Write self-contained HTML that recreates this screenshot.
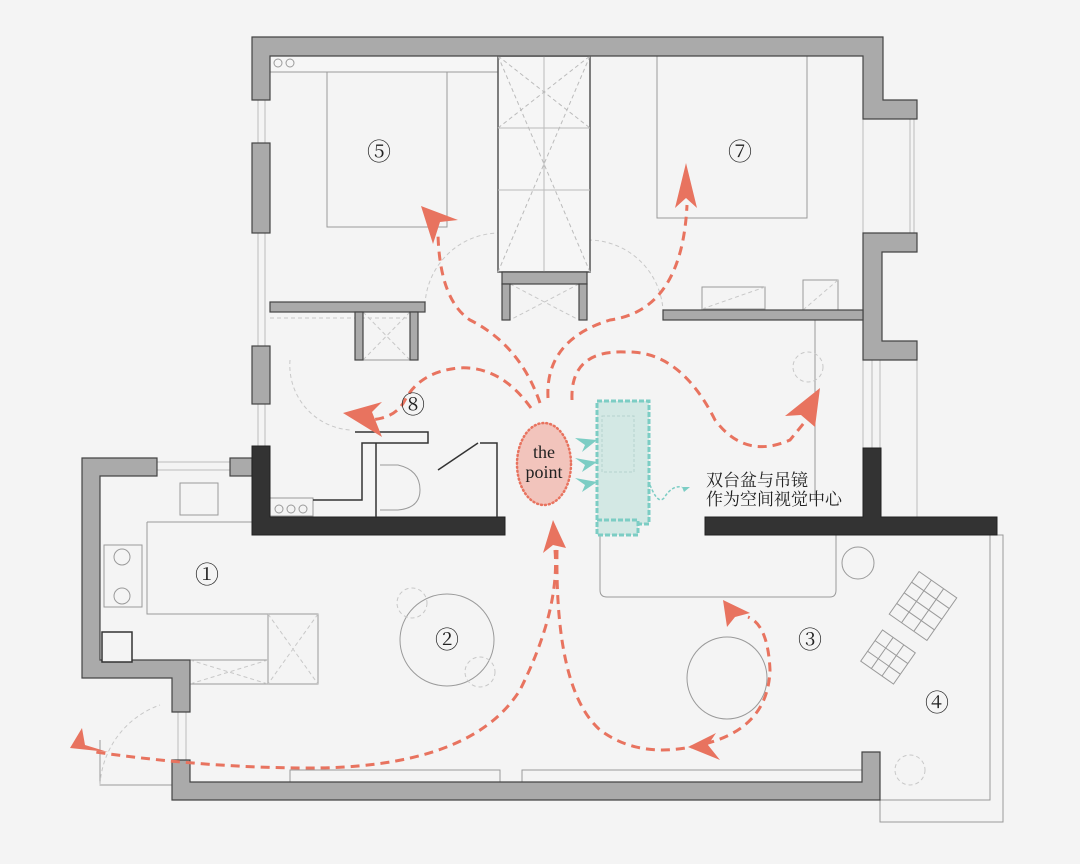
<!DOCTYPE html>
<html><head><meta charset="utf-8"><style>
html,body{margin:0;padding:0;background:#f4f4f4;}
svg{display:block}
text{font-family:"Liberation Serif","Noto Serif CJK SC",serif;}
</style></head><body>
<svg width="1080" height="864" viewBox="0 0 1080 864" xmlns="http://www.w3.org/2000/svg">
<rect width="1080" height="864" fill="#f4f4f4"/>
<!-- window lines -->
<g fill="none" stroke="#bbb" stroke-width="1">
  <path d="M258 100 V446 M265 100 V446"/>
  <path d="M863 119 V233 M910 119 V233 M914 119 V233"/>
  <path d="M863 360 V448 M872 360 V448 M880 360 V448 M917 360 V517"/>
  <path d="M157 462 H230 M157 470 H230"/>
  <path d="M178 712 V760 M186 712 V760"/>
</g>
<!-- light lines: furniture -->
<g fill="none" stroke="#9a9a9a" stroke-width="1">
  <rect x="270" y="56" width="228" height="16" fill="#f6f6f6"/>
  <circle cx="278" cy="63" r="4"/><circle cx="290" cy="63" r="4"/>
  <rect x="327" y="72" width="120" height="155"/>
  <rect x="657" y="56" width="150" height="162"/>
  <rect x="702" y="287" width="63" height="22"/><rect x="803" y="280" width="35" height="30"/>
  <path d="M147 522 V614 H268 V660 H190"/>
  <path d="M147 522 H252"/>
  <rect x="268" y="614" width="50" height="70"/><rect x="190" y="660" width="78" height="24"/>
  <rect x="104" y="545" width="38" height="62"/>
  <circle cx="122" cy="557" r="8"/><circle cx="122" cy="596" r="8"/>
  <rect x="180" y="483" width="38" height="32"/>
  <ellipse cx="447" cy="640" rx="47" ry="46"/>
  <ellipse cx="727" cy="678" rx="40" ry="41"/>
  <circle cx="858" cy="563" r="16"/>
  <path d="M600 535 V590 Q600 597 607 597 H830 Q836 597 836 590 V535"/>
  <rect x="290" y="770" width="210" height="27"/><rect x="522" y="770" width="340" height="27"/>
  <path d="M880 535 H990 V800 H880 M880 800 V822 H1003 V535 H997"/>
  <path d="M815 320 V500"/>
  <g transform="rotate(35 923 606)"><rect x="900" y="580" width="46" height="52"/><path d="M900 593 H946 M900 606 H946 M900 619 H946 M915 580 V632 M930 580 V632"/></g>
  <g transform="rotate(35 888 657)"><rect x="868" y="638" width="40" height="38"/><path d="M868 651 H908 M868 664 H908 M881 638 V676 M894 638 V676"/></g>
  <rect x="363" y="312" width="47" height="48"/>
  <rect x="270" y="498" width="43" height="18"/>
  <circle cx="279" cy="509" r="4"/><circle cx="291" cy="509" r="4"/><circle cx="303" cy="509" r="4"/>
  <path d="M380 465 H398 Q420 470 420 490 Q420 508 398 510 H380"/>
  <path d="M100 740 V785 H190"/>
</g>
<g fill="none" stroke="#c8c8c8" stroke-width="1" stroke-dasharray="4 3">
  <path d="M425 305 A75 75 0 0 1 498 233"/>
  <path d="M588 240 A75 75 0 0 1 663 310"/>
  <path d="M290 360 A65 65 0 0 0 350 430"/>
  <circle cx="412" cy="603" r="15"/><circle cx="480" cy="672" r="15"/>
  <circle cx="808" cy="367" r="15"/><circle cx="910" cy="770" r="15"/>
  <path d="M100 785 A90 90 0 0 1 160 705"/>
  <path d="M270 318 L410 318"/>
  <path d="M363 312 L410 360 M410 312 L363 360 M510 284 L579 320 M579 284 L510 320"/>
  <path d="M318 614 L268 684 M268 614 L318 684 M190 660 L268 684 M268 660 L190 684"/>
  <path d="M702 309 L765 287 M803 310 L838 280"/>
</g>
<g stroke="#555" stroke-width="1.5" fill="#f6f6f6">
  <rect x="498" y="56" width="92" height="216"/>
</g>
<g stroke="#bbb" stroke-width="1" fill="none">
  <line x1="498" y1="128" x2="590" y2="128"/><line x1="498" y1="190" x2="590" y2="190"/>
  <line x1="544" y1="56" x2="544" y2="272"/>
  <path d="M498 56 L590 272 M590 56 L498 272 M498 128 L590 56 M498 56 L590 128" stroke-dasharray="4 3"/>
</g>
<!-- gray walls -->
<g fill="#aaaaaa" stroke="#444" stroke-width="1.2">
  <path d="M252 37 H883 V100 H917 V119 H863 V56 H270 V100 H252 Z"/>
  <path d="M863 233 H917 V252 H882 V341 H917 V360 H863 Z"/>
  <rect x="252" y="143" width="18" height="90"/>
  <rect x="252" y="346" width="18" height="58"/>
  <path d="M82 458 H157 V476 H100 V660 H190 V712 H172 V678 H82 Z"/>
  <rect x="230" y="458" width="22" height="18"/>
  <path d="M172 760 H190 V782 H862 V752 H880 V800 H172 Z"/>
  <rect x="270" y="302" width="155" height="10"/>
  <rect x="355" y="312" width="8" height="48"/><rect x="410" y="312" width="8" height="48"/>
  <rect x="502" y="272" width="85" height="12"/>
  <rect x="502" y="284" width="8" height="36"/><rect x="579" y="284" width="8" height="36"/>
  <rect x="663" y="310" width="200" height="10"/>
</g>
<rect x="102" y="632" width="30" height="30" fill="#f4f4f4" stroke="#333" stroke-width="1.5"/>
<!-- dark walls -->
<g fill="#333" stroke="#222">
  <path d="M252 446 H270 V517 H505 V535 H252 Z"/>
  <path d="M863 448 H881 V517 H997 V535 H705 V517 H863 Z"/>
</g>
<g fill="none" stroke="#333" stroke-width="1.5">
  <path d="M355 432 H428 V443 H362 V500 H313"/>
  <path d="M376 443 V517 M480 443 H497 V517"/>
  <path d="M438 470 L478 443"/>
</g>
<!-- teal -->
<rect x="597" y="401" width="52" height="123" fill="#d3e8e4" stroke="#7ccdc4" stroke-width="3" stroke-dasharray="5 2"/>
<rect x="597" y="520" width="41" height="15" fill="#d3e8e4" stroke="#7ccdc4" stroke-width="3" stroke-dasharray="5 2"/>
<rect x="602" y="416" width="32" height="56" fill="none" stroke="#b5d2ce" stroke-dasharray="3 2"/>
<path d="M650 485 Q658 505 664 498 Q672 485 682 487" fill="none" stroke="#7ccdc4" stroke-width="1.5" stroke-dasharray="3 2"/>
<g fill="#7ccdc4">
  <path d="M575 438 L597 440 L582 452 L585 445Z"/>
  <path d="M575 458 L597 462 L582 472 L585 465Z"/>
  <path d="M575 478 L597 482 L582 492 L585 485Z"/>
  <path d="M682 487 L690 487 L684 492Z"/>
</g>
<!-- the point -->
<ellipse cx="544" cy="464" rx="27" ry="41" fill="#f2c4bc" stroke="#e8735f" stroke-width="2.5" stroke-dasharray="1 3" stroke-linecap="round"/>
<text x="544" y="458" font-size="18" text-anchor="middle" fill="#222">the</text>
<text x="544" y="478" font-size="18" text-anchor="middle" fill="#222">point</text>
<!-- red paths -->
<g fill="none" stroke="#e8735f" stroke-width="3" stroke-dasharray="9 6">
  <path d="M540 403 Q520 345 470 320 Q440 300 438 235"/>
  <path d="M548 398 Q545 340 610 320 Q682 310 687 205"/>
  <path d="M531 408 Q500 365 458 368 Q420 372 405 400 Q395 420 365 420"/>
  <path d="M572 400 Q570 350 625 352 Q680 350 715 420 Q745 460 790 440 L808 418"/>
  <path d="M555 550 Q560 610 520 690 Q470 770 300 768 Q200 767 95 752"/>
  <path d="M557 550 Q555 690 600 730 Q640 760 700 745 Q768 730 770 670 Q768 625 748 617"/>
</g>
<g fill="#e8735f">
  <path d="M421 206 L458 220 L440 222 L433 244 Z"/>
  <path d="M686 163 L675 208 L686 198 L697 208 Z"/>
  <path d="M343 413 L382 402 L372 412 L382 437 Z"/>
  <path d="M820 388 L785 416 L801 415 L815 427 Z"/>
  <path d="M553 520 L543 553 L553 545 L566 548 Z"/>
  <path d="M70 748 L82 728 L85 745 L108 752 Z"/>
  <path d="M688 747 L716 733 L708 745 L720 760 Z"/>
  <path d="M723 600 L727 627 L735 617 L750 613 Z"/>
</g>
<!-- labels -->
<g font-size="24" fill="#222" text-anchor="middle">
  <text x="379" y="160">⑤</text><text x="740" y="160">⑦</text>
  <text x="413" y="413">⑧</text><text x="207" y="583">①</text>
  <text x="447" y="648">②</text><text x="810" y="648">③</text>
  <text x="937" y="711">④</text>
</g>
<g font-size="17" fill="#222">
  <text x="706" y="486">双台盆与吊镜</text>
  <text x="706" y="505">作为空间视觉中心</text>
</g>
</svg>
</body></html>
